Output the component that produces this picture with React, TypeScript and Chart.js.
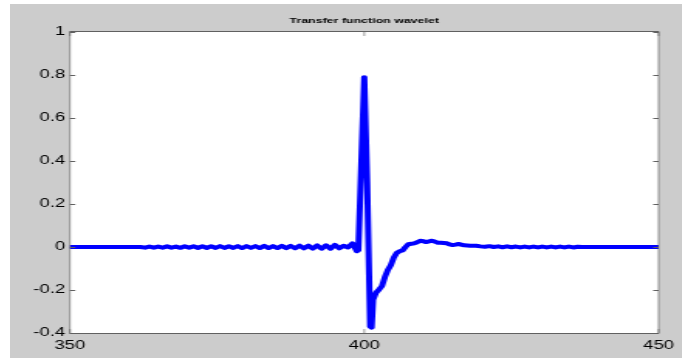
import { useEffect, useRef } from "react";
import { Chart, registerables } from "chart.js";

Chart.register(...registerables);

const chartTitle = "Transfer function wavelet";
const xTicks = [350, 400, 450];
const yTicks = [-0.4, -0.2, 0, 0.2, 0.4, 0.6, 0.8, 1];

const times = [
  350, 362, 362.75, 363.5, 364.25, 365, 365.75, 366.5, 367.25, 368, 368.75, 369.5,
  370.25, 371, 371.75, 372.5, 373.25, 374, 374.75, 375.5, 376.25, 377, 377.75,
  378.5, 379.25, 380, 380.75, 381.5, 382.25, 383, 383.75, 384.5, 385.25, 386,
  386.75, 387.5, 388.25, 389, 389.75, 390.5, 391.25, 392, 392.75, 393.5, 394.25,
  395, 395.75, 396.5, 397.25, 398, 398.75, 399, 399.5, 400, 400.5, 401, 401.25,
  401.5, 402, 402.5, 403, 403.5, 404, 404.5, 405, 405.5, 406, 406.5, 407, 407.5,
  408, 408.5, 409, 409.5, 410, 410.5, 411, 411.5, 412, 412.5, 413, 414, 414.5,
  415, 415.5, 416, 417, 418, 419, 419.75, 420.5, 421.25, 422, 422.75, 423.5,
  424.25, 425, 425.75, 426.5, 427.25, 428, 428.75, 429.5, 430.25, 431, 431.75,
  432.5, 433.25, 434, 434.75, 435.5, 436.25, 437, 450,
];

const values = [
  0, 0, -0.003, 0.002, -0.003, 0.002, -0.003, 0.003, -0.003, 0.002, -0.004, 0.003,
  -0.003, 0.003, -0.004, 0.003, -0.004, 0.003, -0.004, 0.004, -0.004, 0.003, -0.004,
  0.004, -0.005, 0.004, -0.004, 0.004, -0.005, 0.005, -0.005, 0.004, -0.005, 0.005,
  -0.005, 0.005, -0.006, 0.006, -0.006, 0.006, -0.007, 0.007, -0.008, 0.008, -0.008,
  0.01, -0.006, 0.006, -0.002, 0.017, -0.02, -0.015, 0.39, 0.79, 0.3, -0.37, -0.375,
  -0.245, -0.212, -0.198, -0.182, -0.14, -0.107, -0.085, -0.05, -0.028, -0.02,
  -0.016, 0.0, 0.013, 0.015, 0.017, 0.022, 0.029, 0.027, 0.023, 0.026, 0.029,
  0.025, 0.02, 0.02, 0.017, 0.012, 0.009, 0.011, 0.014, 0.008, 0.006, 0.006,
  0.003, 0.001, 0.004, 0.0, 0.003, -0.001, 0.003, -0.001, 0.002, -0.002, 0.002,
  -0.002, 0.002, -0.002, 0.002, -0.002, 0.002, -0.002, 0.002, -0.002, 0.002,
  -0.002, 0.001, 0, 0,
];

// The reference image is horizontally stretched: draw narrow, stretch with CSS.
const S = 1.548;
const CW = 434;
const CH = 354;
const PLOT_LEFT = 38.7;
const PLOT_RIGHT = 419.3;
const PLOT_BOTTOM = 329;

const framePlugin = {
  id: "matlabFrame",
  beforeDatasetsDraw(chart: any) {
    const { ctx, chartArea: a } = chart;
    ctx.save();
    ctx.fillStyle = "#ffffff";
    ctx.fillRect(a.left, a.top, a.right - a.left, a.bottom - a.top);
    ctx.restore();
  },
  afterDatasetsDraw(chart: any) {
    const { ctx, chartArea: a, scales } = chart;
    const x = scales.x;
    const y = scales.y;
    ctx.save();
    ctx.strokeStyle = "#606060";
    // horizontal edges and y ticks (1px tall)
    ctx.lineWidth = 1;
    ctx.beginPath();
    ctx.moveTo(a.left, a.top - 0.5);
    ctx.lineTo(a.right, a.top - 0.5);
    ctx.moveTo(a.left, a.bottom + 0.5);
    ctx.lineTo(a.right, a.bottom + 0.5);
    for (const v of yTicks) {
      const py = Math.round(y.getPixelForValue(v)) + 0.5;
      ctx.moveTo(a.left, py);
      ctx.lineTo(a.left + 3.5, py);
      ctx.moveTo(a.right, py);
      ctx.lineTo(a.right - 3.5, py);
    }
    ctx.stroke();
    // vertical edges and x ticks (thin, since stretched horizontally)
    ctx.lineWidth = 1 / S;
    ctx.beginPath();
    ctx.moveTo(a.left, a.top - 1);
    ctx.lineTo(a.left, a.bottom + 1);
    ctx.moveTo(a.right, a.top - 1);
    ctx.lineTo(a.right, a.bottom + 1);
    for (const v of xTicks) {
      const px = x.getPixelForValue(v);
      ctx.moveTo(px, a.bottom);
      ctx.lineTo(px, a.bottom - 4);
      ctx.moveTo(px, a.top);
      ctx.lineTo(px, a.top + 4);
    }
    ctx.stroke();
    ctx.restore();
  },
};

export default function App() {
  const ref = useRef<HTMLCanvasElement>(null);

  useEffect(() => {
    const canvas = ref.current;
    if (!canvas) return;
    const tickFont = { family: "Liberation Sans", size: 12 };
    const chart = new Chart(canvas, {
      type: "line",
      data: {
        datasets: [
          {
            data: times.map((t, i) => ({ x: t, y: values[i] })),
            borderColor: "#0000ff",
            borderWidth: 4,
            pointRadius: 0,
            tension: 0,
            fill: false,
            borderJoinStyle: "round",
            borderCapStyle: "round",
          },
        ],
      },
      options: {
        responsive: false,
        animation: false,
        devicePixelRatio: 1,
        layout: { padding: { left: 0, right: CW - PLOT_RIGHT, top: 0, bottom: 0 } },
        plugins: {
          legend: { display: false },
          tooltip: { enabled: false },
          title: {
            display: true,
            text: chartTitle,
            fullSize: false,
            color: "#000000",
            font: { family: "Liberation Sans", size: 8, weight: "bold", lineHeight: 1.2 },
            padding: { top: 12.2, bottom: 6.2 },
          },
        },
        scales: {
          x: {
            type: "linear",
            min: 350,
            max: 450,
            afterBuildTicks: (s: any) => {
              s.ticks = xTicks.map((v) => ({ value: v }));
            },
            afterFit: (s: any) => {
              s.height = CH - PLOT_BOTTOM;
            },
            grid: { display: false, drawTicks: false },
            border: { display: false },
            ticks: {
              color: "#000000",
              font: tickFont,
              padding: 5,
              maxRotation: 0,
              autoSkip: false,
              callback: (v: any) => String(v),
            },
          },
          y: {
            type: "linear",
            min: -0.4,
            max: 1,
            afterBuildTicks: (s: any) => {
              s.ticks = yTicks.map((v) => ({ value: v }));
            },
            afterFit: (s: any) => {
              s.width = PLOT_LEFT;
            },
            grid: { display: false, drawTicks: false },
            border: { display: false },
            ticks: {
              color: "#000000",
              font: tickFont,
              padding: 3,
              autoSkip: false,
              callback: (v: any) => String(v),
            },
          },
        },
      } as any,
      plugins: [framePlugin],
    });
    return () => chart.destroy();
  }, []);

  return (
    <div style={{ position: "absolute", left: 0, top: 0, width: 682, height: 358, background: "#ffffff", overflow: "hidden" }}>
      <div style={{ position: "absolute", left: 10, top: 4, width: 672, height: 354, background: "#cccccc", overflow: "hidden" }}>
        <div style={{ width: CW, height: CH, transform: `scaleX(${S})`, transformOrigin: "0 0" }}>
          <canvas ref={ref} width={CW} height={CH} />
        </div>
      </div>
    </div>
  );
}
